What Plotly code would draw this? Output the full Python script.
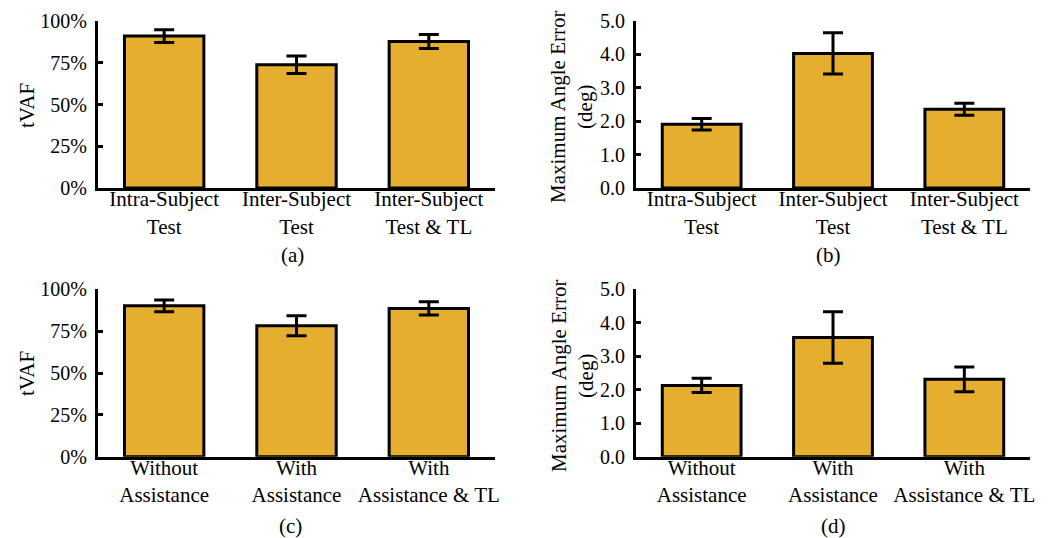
import plotly.graph_objects as go

# The page body has an 8px margin, so the figure is drawn 8px in from the window edge.
OFF = 8
W, H = 1061, 538

# ---- data ----
cats_top = ["Intra-Subject<br>Test", "Inter-Subject<br>Test", "Inter-Subject<br>Test &amp; TL"]
cats_bot = ["Without<br>Assistance", "With<br>Assistance", "With<br>Assistance &amp; TL"]

tvaf_a = [91.0, 73.8, 87.7]
tvaf_a_err = [3.8, 5.2, 4.2]
angle_b = [1.91, 4.03, 2.36]
angle_b_err = [0.17, 0.62, 0.18]
tvaf_c = [90.1, 78.2, 88.6]
tvaf_c_err = [3.5, 6.0, 4.0]
angle_d = [2.13, 3.56, 2.31]
angle_d_err = [0.21, 0.77, 0.37]

pct_ticks = [0, 25, 50, 75, 100]
pct_labels = ["0%", "25%", "50%", "75%", "100%"]
deg_ticks = [0, 1, 2, 3, 4, 5]
deg_labels = ["0.0", "1.0", "2.0", "3.0", "4.0", "5.0"]

captions = ["(a)", "(b)", "(c)", "(d)"]
ytitles = ["tVAF", "Maximum Angle Error<br>(deg)", "tVAF", "Maximum Angle Error<br>(deg)"]

BAR_COLOR = "#E5AE2F"
FONT = "Liberation Serif, Times New Roman, serif"

def px_x(x):
    return (x - OFF) / W

def px_y(y):
    return 1 - (y - OFF) / H

# window-pixel layout of panels: (x0, x1, ytop, ybottom)
panels = [
    (98, 495, 21, 188),
    (636, 1030, 21, 188),
    (98, 495, 289.3, 456.7),
    (636, 1030, 289.3, 456.7),
]

fig = go.Figure()

datasets = [
    (cats_top, tvaf_a, tvaf_a_err, "pct"),
    (cats_top, angle_b, angle_b_err, "deg"),
    (cats_bot, tvaf_c, tvaf_c_err, "pct"),
    (cats_bot, angle_d, angle_d_err, "deg"),
]

for i, (cats, vals, errs, kind) in enumerate(datasets):
    n = i + 1
    xa = "x" if n == 1 else f"x{n}"
    ya = "y" if n == 1 else f"y{n}"
    fig.add_trace(go.Bar(
        x=cats, y=vals,
        error_y=dict(type="data", array=errs, color="black", thickness=3, width=10, visible=True),
        marker=dict(color=BAR_COLOR, line=dict(color="black", width=3)),
        xaxis=xa, yaxis=ya, showlegend=False,
    ))
    x0, x1, yt, yb = panels[i]
    xkey = "xaxis" if n == 1 else f"xaxis{n}"
    ykey = "yaxis" if n == 1 else f"yaxis{n}"
    fig.layout[xkey] = dict(
        domain=[px_x(x0), px_x(x1)], anchor=ya, automargin=False,
        showline=True, linecolor="black", linewidth=3,
        ticks="", showgrid=False, zeroline=False,
        ticklabelstandoff=-10,
        tickfont=dict(family=FONT, size=21, color="black"),
        range=[-0.5, 2.5],
    )
    if kind == "pct":
        ydict = dict(range=[0, 100], tickvals=pct_ticks, ticktext=pct_labels)
    else:
        ydict = dict(range=[0, 5], tickvals=deg_ticks, ticktext=deg_labels)
    ydict.update(dict(
        domain=[px_y(yb), px_y(yt)], anchor=xa, automargin=False,
        showline=True, linecolor="black", linewidth=3,
        ticks="inside", ticklen=5, tickwidth=3, tickcolor="black",
        showgrid=False, zeroline=False,
        ticklabelstandoff=4,
        tickfont=dict(family=FONT, size=20, color="black"),
    ))
    fig.layout[ykey] = ydict

# y-axis titles
ytitle_pos = [(27, 106), (572, 107), (27, 374), (572, 376)]
for (cx, cy), txt in zip(ytitle_pos, ytitles):
    fig.add_annotation(x=px_x(cx), y=px_y(cy), xref="paper", yref="paper",
                       text=txt, showarrow=False, textangle=-90,
                       xanchor="center", yanchor="middle",
                       font=dict(family=FONT, size=21, color="black"))

cap_pos = [(292, 255), (828, 255), (290, 526), (833, 526)]
for (cx, cy), txt in zip(cap_pos, captions):
    fig.add_annotation(x=px_x(cx), y=px_y(cy), xref="paper", yref="paper",
                       text=txt, showarrow=False, xanchor="center", yanchor="middle",
                       font=dict(family=FONT, size=21, color="black"))

fig.update_layout(
    width=W, height=H,
    margin=dict(l=0, r=0, t=0, b=0),
    paper_bgcolor="white", plot_bgcolor="white",
    bargap=0.4,
    font=dict(family=FONT, size=20, color="black"),
)

fig.write_html("out.html")
